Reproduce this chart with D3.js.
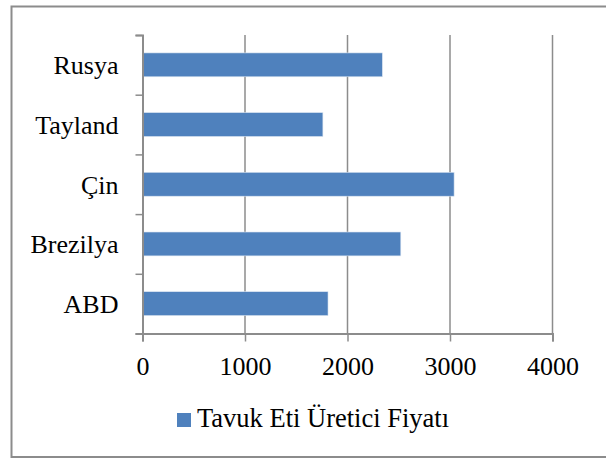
<!DOCTYPE html>
<html>
<head>
<meta charset="utf-8">
<script src="https://cdn.jsdelivr.net/npm/d3@7"></script>
<style>
    body { margin: 0; background: #fff; }
    text { font-family: "Liberation Serif", "Times New Roman", serif; fill: #000; }
</style>
</head>
<body>
<div id="chart"></div>
<script>
// categories, top to bottom as drawn
var countries = ['Rusya', 'Tayland', 'Çin', 'Brezilya', 'ABD'];
// values
var prices = [2340, 1760, 3040, 2520, 1810];
var xTicks = [0, 1000, 2000, 3000, 4000];
var seriesName = 'Tavuk Eti Üretici Fiyatı';

var width = 606, height = 459;
var plotLeft = 142.5, plotRight = 552.5, plotTop = 35, plotBottom = 333.5;
var fontSize = '26px';

var svg = d3.select('#chart').append('svg')
    .attr('width', width)
    .attr('height', height);

// outer frame (right side runs off the picture)
svg.append('rect')
    .attr('x', 11.5).attr('y', 6.5)
    .attr('width', 600).attr('height', 450.5)
    .attr('fill', 'none')
    .attr('stroke', '#8c8c8c')
    .attr('stroke-width', 2);

var x = d3.scaleLinear().domain([0, 4000]).range([plotLeft, plotRight]);

// category slots, bar takes 40% in the middle of each
var y = d3.scaleBand().domain(countries).range([plotTop, plotBottom])
    .paddingInner(0.6).paddingOuter(0.3);

// gridlines
svg.append('g').selectAll('line')
    .data(xTicks.slice(1))
    .enter().append('line')
    .attr('x1', d => x(d)).attr('x2', d => x(d))
    .attr('y1', plotTop).attr('y2', plotBottom)
    .attr('stroke', '#8c8c8c')
    .attr('stroke-width', 1.5);

// bars
svg.append('g').selectAll('rect')
    .data(countries)
    .enter().append('rect')
    .attr('x', x(0))
    .attr('y', d => y(d))
    .attr('width', (d, i) => x(prices[i]) - x(0))
    .attr('height', y.bandwidth())
    .attr('fill', '#4f81bd')
    .attr('stroke', '#dbe5f1')
    .attr('stroke-width', 0.6);

// x axis
var xAxis = svg.append('g')
    .attr('transform', 'translate(0,' + plotBottom + ')')
    .call(d3.axisBottom(x).tickValues(xTicks).tickSize(8).tickPadding(15).tickFormat(d3.format('d')));
xAxis.select('.domain').attr('stroke', '#8c8c8c').attr('stroke-width', 2);
xAxis.selectAll('.tick line').attr('stroke', '#8c8c8c').attr('stroke-width', 1.5);
xAxis.selectAll('text')
    .style('font-family', '"Liberation Serif", "Times New Roman", serif')
    .style('font-size', fontSize)
    .attr('fill', '#000');

// y axis, ticks between categories
var yBound = d3.scaleLinear().domain([0, countries.length]).range([plotTop, plotBottom]);
var yAxis = svg.append('g')
    .attr('transform', 'translate(' + plotLeft + ',0)')
    .call(d3.axisLeft(yBound).tickValues(d3.range(countries.length + 1)).tickSize(7).tickFormat(''));
yAxis.select('.domain').attr('stroke', '#8c8c8c').attr('stroke-width', 2);
yAxis.selectAll('.tick line').attr('stroke', '#8c8c8c').attr('stroke-width', 1.5);

// category labels
svg.append('g').selectAll('text')
    .data(countries)
    .enter().append('text')
    .attr('x', plotLeft - 24)
    .attr('y', d => y(d) + y.bandwidth() / 2)
    .attr('dy', '0.36em')
    .attr('text-anchor', 'end')
    .style('font-size', fontSize)
    .text(d => d);

// legend
var legend = svg.append('g').attr('transform', 'translate(177,413)');
legend.append('rect')
    .attr('width', 14).attr('height', 14)
    .attr('fill', '#4f81bd');
legend.append('text')
    .attr('x', 20).attr('y', 14)
    .style('font-size', '26.5px')
    .text(seriesName);
</script>
</body>
</html>
